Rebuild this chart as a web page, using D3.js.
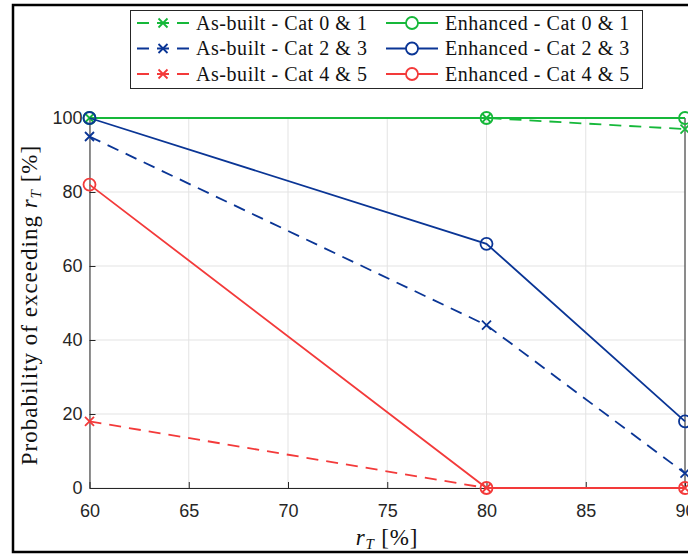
<!DOCTYPE html>
<meta charset="utf-8">
<style>
  body { margin: 0; background: #fff; }
  .tick text { font-family: "Liberation Sans", Arial, sans-serif; font-size: 18px; fill: #262626; }
  .serif { font-family: "Liberation Serif", "DejaVu Serif", serif; fill: #111; }
</style>
<body>
<script src="https://cdn.jsdelivr.net/npm/d3@7"></script>
<script>

var width = 688,
    height = 555;

// data
var rT = [60, 80, 90];
var xTicks = [60, 65, 70, 75, 80, 85, 90];
var yTicks = [0, 20, 40, 60, 80, 100];

var asBuilt01 = [100, 100, 97];
var asBuilt23 = [95, 44, 4];
var asBuilt45 = [18, 0, 0];
var enh01 = [100, 100, 100];
var enh23 = [100, 66, 18];
var enh45 = [82, 0, 0];

var green = "#16b83a", blue = "#0a3595", red = "#f33a3a";

var series = [
  { name: "As-built - Cat 0 & 1", values: asBuilt01, color: green, dash: true },
  { name: "As-built - Cat 2 & 3", values: asBuilt23, color: blue, dash: true },
  { name: "As-built - Cat 4 & 5", values: asBuilt45, color: red, dash: true },
  { name: "Enhanced - Cat 0 & 1", values: enh01, color: green, dash: false },
  { name: "Enhanced - Cat 2 & 3", values: enh23, color: blue, dash: false },
  { name: "Enhanced - Cat 4 & 5", values: enh45, color: red, dash: false }
];

var margin = { left: 89.5, right: 3, top: 118, bottom: 67 };

var svg = d3.select("body").append("svg")
    .attr("width", width)
    .attr("height", height);

// figure frame
svg.append("rect")
    .attr("x", 13).attr("y", 5)
    .attr("width", 700).attr("height", 547)
    .attr("fill", "none").attr("stroke", "#000").attr("stroke-width", 2.5);

var x = d3.scaleLinear().domain([60, 90]).range([margin.left, width - margin.right]);
var y = d3.scaleLinear().domain([0, 100]).range([height - margin.bottom, margin.top]);

var g = svg.append("g");

// grid
g.selectAll(".gx").data(xTicks).enter().append("line")
    .attr("x1", function(d) { return x(d); }).attr("x2", function(d) { return x(d); })
    .attr("y1", y(0)).attr("y2", y(100))
    .attr("stroke", "#e3e3e3").attr("stroke-width", 1);
g.selectAll(".gy").data(yTicks).enter().append("line")
    .attr("y1", function(d) { return y(d); }).attr("y2", function(d) { return y(d); })
    .attr("x1", x(60)).attr("x2", x(90))
    .attr("stroke", "#e3e3e3").attr("stroke-width", 1);

// axes
var xAxis = g.append("g")
    .attr("transform", "translate(0," + y(0) + ")")
    .call(d3.axisBottom(x).tickValues(xTicks).tickSizeInner(-6).tickSizeOuter(0).tickPadding(16));
var yAxis = g.append("g")
    .attr("transform", "translate(" + x(60) + ",0)")
    .call(d3.axisLeft(y).tickValues(yTicks).tickSizeInner(-6).tickSizeOuter(0).tickPadding(7));
[xAxis, yAxis].forEach(function(a) {
  a.select(".domain").attr("stroke", "#262626");
  a.selectAll(".tick line").attr("stroke", "#262626");
});
// top and right box edges
g.append("line").attr("x1", x(60)).attr("x2", x(90)).attr("y1", y(100)).attr("y2", y(100)).attr("stroke", "#262626");
g.append("line").attr("x1", x(90)).attr("x2", x(90)).attr("y1", y(0)).attr("y2", y(100)).attr("stroke", "#262626");

var line = d3.line()
    .x(function(d, i) { return x(rT[i]); })
    .y(function(d) { return y(d); });

function crossPath(cx, cy, r) {
  return "M" + (cx - r) + "," + (cy - r) + "L" + (cx + r) + "," + (cy + r) +
         "M" + (cx - r) + "," + (cy + r) + "L" + (cx + r) + "," + (cy - r);
}

var plot = svg.append("g");
series.forEach(function(s) {
  plot.append("path")
      .attr("d", line(s.values))
      .attr("fill", "none")
      .attr("stroke", s.color)
      .attr("stroke-width", 1.8)
      .attr("stroke-dasharray", s.dash ? "12,8" : null);
  s.values.forEach(function(v, i) {
    if (s.dash) {
      plot.append("path").attr("d", crossPath(x(rT[i]), y(v), 4.5))
          .attr("stroke", s.color).attr("stroke-width", 1.8);
    } else {
      plot.append("circle").attr("cx", x(rT[i])).attr("cy", y(v)).attr("r", 6)
          .attr("fill", "none").attr("stroke", s.color).attr("stroke-width", 1.8);
    }
  });
});

// legend
var leg = svg.append("g");
leg.append("rect")
    .attr("x", 130.5).attr("y", 10.5).attr("width", 512).attr("height", 78)
    .attr("fill", "#fff").attr("stroke", "#262626").attr("stroke-width", 1);
series.forEach(function(s, i) {
  var col = Math.floor(i / 3), row = i % 3;
  var lx = col === 0 ? 137 : 386, ly = 23 + row * 25.5;
  var li = leg.append("g");
  li.append("line").attr("x1", lx).attr("x2", lx + 52).attr("y1", ly).attr("y2", ly)
      .attr("stroke", s.color).attr("stroke-width", 1.8)
      .attr("stroke-dasharray", s.dash ? "12,8" : null);
  if (s.dash) {
    li.append("path").attr("d", crossPath(lx + 26, ly, 4.5)).attr("stroke", s.color).attr("stroke-width", 1.8);
  } else {
    li.append("circle").attr("cx", lx + 26).attr("cy", ly).attr("r", 6)
        .attr("fill", "#fff").attr("stroke", s.color).attr("stroke-width", 1.8);
  }
  li.append("text").attr("class", "serif")
      .attr("x", lx + 59).attr("y", ly + 6.5)
      .attr("font-size", 20)
      .attr("letter-spacing", 0.55)
      .text(s.name);
});

// axis labels
var xl = svg.append("text").attr("class", "serif")
    .attr("x", 387).attr("y", 545).attr("text-anchor", "middle").attr("font-size", 23)
    .attr("letter-spacing", 0.8);
xl.append("tspan").attr("font-style", "italic").text("r");
xl.append("tspan").attr("font-style", "italic").attr("font-size", 15).attr("dy", 4).text("T");
xl.append("tspan").attr("dy", -4).text(" [%]");

var yl = svg.append("text").attr("class", "serif")
    .attr("transform", "translate(37,305) rotate(-90)")
    .attr("text-anchor", "middle").attr("font-size", 23)
    .attr("letter-spacing", 1.0);
yl.append("tspan").text("Probability of exceeding ");
yl.append("tspan").attr("font-style", "italic").text("r");
yl.append("tspan").attr("font-style", "italic").attr("font-size", 15).attr("dy", 4).text("T");
yl.append("tspan").attr("dy", -4).text(" [%]");

</script>
</body>
</html>
